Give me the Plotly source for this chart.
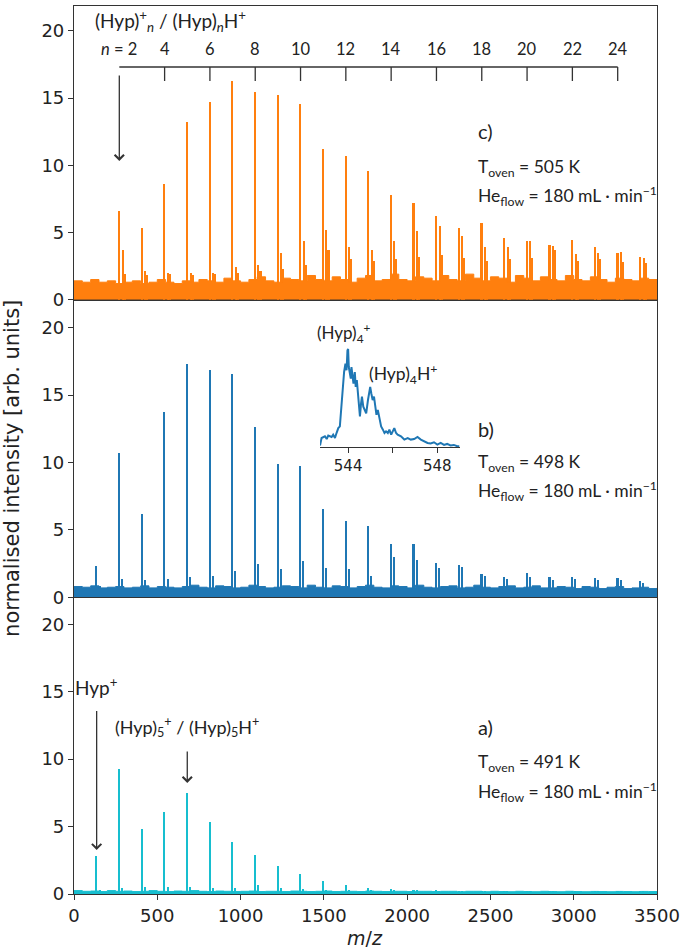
import plotly.graph_objects as go

# ---------------- data ----------------
HYP_MASS = 136  # m/z of one Hyp unit

# panel c (orange, T=505 K): clusters n = 2..25
c_n = list(range(2, 26))
c_main = [6.57, 5.3, 8.6, 13.2, 14.75, 16.3, 15.45, 15.26, 14.55, 11.2, 10.68, 9.6,
          7.8, 7.2, 6.25, 5.33, 5.7, 4.6, 4.4, 4.1, 4.46, 3.9, 3.5, 3.2]
c_sat1 = [3.7, 2.1, 2.0, 2.0, 2.0, 2.45, 2.6, 3.5, 4.4, 5.2, 3.9, 3.7,
          4.4, 5.1, 5.5, 4.75, 3.9, 3.9, 4.4, 4.0, 3.4, 3.5, 3.55, 3.1]
c_sat2 = [1.9, 1.8, 1.9, 1.8, 1.9, 2.0, 2.1, 2.3, 2.6, 3.7, 3.0, 2.9,
          3.0, 3.2, 3.3, 3.1, 2.9, 3.0, 3.1, 3.7, 2.9, 3.0, 2.8, 2.7]
c_base = [1.4, 1.3, 1.5, 1.3, 1.4, 1.2, 1.3, 1.4, 1.2, 1.3, 1.5, 1.3, 1.2, 1.4, 1.3, 1.5,
          1.4, 1.3, 1.6, 1.4, 1.3, 1.5, 1.7, 1.4, 1.3, 1.6, 1.5, 1.4, 1.8, 1.5, 1.4, 1.7,
          1.5, 1.3, 1.6, 1.8, 1.4, 1.5, 1.9, 1.5, 1.4, 1.7, 1.6, 1.4, 1.8, 1.5, 1.4, 1.9,
          1.6, 1.4, 1.7, 1.6, 1.3, 1.8, 1.6, 1.4, 1.7, 1.5, 1.4, 1.8, 1.5, 1.4, 1.7, 1.5,
          1.3, 1.6, 1.5, 1.4, 1.6, 1.5, 1.4]

# panel b (blue, T=498 K): n = 1..25
b_n = list(range(1, 26))
b_main = [2.37, 10.76, 6.17, 13.78, 17.3, 16.87, 16.6, 12.64, 9.9, 9.78, 6.57, 5.68, 5.31,
          3.98, 3.98, 2.57, 2.42, 1.75, 1.5, 1.83, 1.5, 1.55, 1.45, 1.45, 1.2]
b_sat1 = [0.9, 1.4, 1.3, 1.4, 1.5, 1.6, 2.0, 2.5, 2.1, 2.7, 2.2, 2.1, 1.6,
          3.0, 2.8, 2.2, 2.3, 1.6, 1.4, 1.5, 1.3, 1.4, 1.3, 1.3, 1.1]
b_base = [0.8, 0.75, 0.85, 0.7, 0.75, 0.8, 0.7, 0.75, 0.85, 0.7, 0.8, 0.75, 0.7, 0.8, 0.9,
          0.75, 0.7, 0.85, 0.8, 0.7, 0.75, 0.9, 0.8, 0.7, 0.75, 0.85, 0.8, 0.7, 0.9, 0.75,
          0.7, 0.85, 0.8, 0.7, 0.8, 0.9, 0.75, 0.7, 0.85, 0.8, 0.7, 0.9, 0.75, 0.7, 0.8,
          0.85, 0.7, 0.75, 0.9, 0.75, 0.7, 0.8, 0.85, 0.7, 0.75, 0.85, 0.7, 0.7, 0.8, 0.75,
          0.65, 0.8, 0.75, 0.65, 0.75, 0.8, 0.65, 0.7, 0.75, 0.65, 0.7]

# panel a (cyan, T=491 K): n = 1..25
a_n = list(range(1, 26))
a_main = [2.77, 9.24, 4.79, 6.02, 7.46, 5.28, 3.83, 2.84, 2.02, 1.48, 0.91, 0.62, 0.45,
          0.32, 0.28, 0.24, 0.22, 0.21, 0.2, 0.2, 0.2, 0.2, 0.2, 0.2, 0.2]
a_sat1 = [0.3, 0.4, 0.5, 0.5, 0.5, 0.4, 0.4, 0.67, 0.4, 0.35, 0.3, 0.3, 0.3,
          0.25, 0.25, 0.22, 0.2, 0.2, 0.2, 0.2, 0.2, 0.2, 0.2, 0.2, 0.2]
a_base = [0.25, 0.2, 0.22, 0.18, 0.25, 0.2, 0.22, 0.18, 0.2, 0.25, 0.2, 0.18, 0.22, 0.2,
          0.25, 0.2, 0.18, 0.22, 0.2, 0.18, 0.2, 0.22, 0.18, 0.2, 0.2, 0.18, 0.22, 0.2, 0.18,
          0.2, 0.22, 0.18, 0.2, 0.2, 0.18, 0.22, 0.2, 0.18, 0.2, 0.2, 0.18, 0.2, 0.2, 0.18,
          0.2, 0.2, 0.17, 0.2, 0.2, 0.17, 0.2, 0.18, 0.17, 0.2, 0.18, 0.17, 0.2, 0.18, 0.17,
          0.2, 0.18, 0.17, 0.19, 0.18, 0.17, 0.19, 0.18, 0.17, 0.19, 0.18, 0.17]
BASE_STEP = 50  # m/z spacing of the baseline samples

# inset: zoom on (Hyp)4+ / (Hyp)4H+
inset_mz = [542.74, 542.81, 542.96, 543.04, 543.11, 543.26, 543.33, 543.41, 543.48, 543.56,
            543.63, 543.67, 543.73, 543.78, 543.82, 543.88, 543.93, 543.97, 544.00, 544.03,
            544.07, 544.12, 544.15, 544.19, 544.24, 544.30, 544.34, 544.39, 544.44, 544.49,
            544.53, 544.58, 544.62, 544.68, 544.74, 544.81, 544.89, 544.95, 544.99, 545.04,
            545.10, 545.16, 545.21, 545.27, 545.33, 545.41, 545.48, 545.56, 545.63, 545.70,
            545.78, 545.85, 545.93, 546.00, 546.07, 546.15, 546.22, 546.37, 546.52, 546.67,
            546.81, 546.96, 547.11, 547.26, 547.41, 547.56, 547.70, 547.85, 548.00, 548.15,
            548.30, 548.44, 548.59, 548.74, 548.89, 548.99]
inset_int = [0.7, 8.3, 10, 7.3, 10.7, 9.3, 11.7, 8.3, 13.3, 18.3,
             20, 33.3, 46.7, 60, 75, 83.3, 76.7, 96.7, 98.3, 80,
             75, 68.3, 80, 70, 63.3, 75, 60, 66.7, 50, 36.7,
             30, 43.3, 50, 40, 36.7, 33.3, 46.7, 55, 60, 53.3,
             46.7, 50, 40, 31.7, 36.7, 26.7, 20, 16.7, 13.3, 15,
             13.3, 16.7, 11.7, 15, 18.3, 13.3, 11.7, 10, 6.7, 8.3,
             6.7, 7.3, 9.3, 6.7, 5, 3.3, 2.7, 4, 1.7, 3.3,
             1.3, 2.3, 0.7, 1.3, 0, 0]

x_ticks = [0, 500, 1000, 1500, 2000, 2500, 3000, 3500]
y_ticks = [0, 5, 10, 15, 20]
n_scale = list(range(2, 25, 2))

ORANGE, BLUE, CYAN = "#ff7f0e", "#1f77b4", "#17becf"
AX = "#333333"
TICKFONT = dict(family="DejaVu Sans", size=18, color="#222")
TXT = "Lato"

fig = go.Figure()


def add_panel(xa, ya, color, n_list, main, sats, base):
    bx = [i * BASE_STEP for i in range(len(base))]
    fig.add_trace(go.Scatter(x=bx, y=base, mode="lines", fill="tozeroy", line_shape="hv",
                             fillcolor=color, line=dict(color=color, width=1),
                             xaxis=xa, yaxis=ya, hoverinfo="skip"))
    for off, vals, w in sats:
        fig.add_trace(go.Bar(x=[n * HYP_MASS + off for n in n_list], y=vals, width=w,
                             marker=dict(color=color, line=dict(width=0)),
                             xaxis=xa, yaxis=ya, hoverinfo="skip"))
    fig.add_trace(go.Bar(x=[n * HYP_MASS for n in n_list], y=main, width=10,
                         marker=dict(color=color, line=dict(width=0)),
                         xaxis=xa, yaxis=ya, hoverinfo="skip"))


add_panel("x3", "y3", ORANGE, c_n, c_main, [(30, c_sat2, 16), (20, c_sat1, 7)], c_base)
add_panel("x2", "y2", BLUE, b_n, b_main, [(18, b_sat1, 7)], b_base)
add_panel("x", "y", CYAN, a_n, a_main, [(18, a_sat1, 7)], a_base)

fig.add_trace(go.Scatter(x=inset_mz, y=inset_int, mode="lines",
                         line=dict(color=BLUE, width=2), xaxis="x4", yaxis="y4",
                         hoverinfo="skip"))

# ---------------- layout ----------------
L, R, T, B = 74, 24, 5, 56
W, H = 685, 950
PW, PH = W - L - R, H - T - B


def px(xp):
    return (xp - L) / PW


def py(yp):
    return (H - B - yp) / PH


dA = [0, py(597)]
dB = [py(597), py(299)]
dC = [py(299), 1]

common_x = dict(range=[0, 3500], showline=True, mirror=True, linecolor=AX, linewidth=1.2,
                showgrid=False, zeroline=False)
common_y = dict(showline=True, mirror=True, linecolor=AX, linewidth=1.2, showgrid=False,
                zeroline=False, ticks="outside", ticklen=5, tickcolor=AX,
                tickvals=y_ticks, tickfont=TICKFONT)

fig.update_layout(
    width=W, height=H, margin=dict(l=L, r=R, t=T, b=B),
    paper_bgcolor="white", plot_bgcolor="white", showlegend=False,
    barmode="overlay", bargap=0,
    xaxis=dict(**common_x, anchor="y", domain=[0, 1], ticks="outside", ticklen=5,
               tickcolor=AX, tickvals=x_ticks, tickfont=TICKFONT),
    xaxis2=dict(**common_x, anchor="y2", domain=[0, 1], matches="x",
                showticklabels=False, ticks=""),
    xaxis3=dict(**common_x, anchor="y3", domain=[0, 1], matches="x",
                showticklabels=False, ticks=""),
    yaxis=dict(**common_y, anchor="x", domain=dA, range=[0, 22.0]),
    yaxis2=dict(**common_y, anchor="x2", domain=dB, range=[0, 22.07]),
    yaxis3=dict(**common_y, anchor="x3", domain=dC, range=[0, 21.86]),
    xaxis4=dict(anchor="y4", domain=[px(321.7), px(462.3)], range=[542.74, 549.0],
                showline=True, linecolor=AX, linewidth=1.2, showgrid=False, zeroline=False,
                ticks="outside", ticklen=5, tickcolor=AX, tickvals=[544, 546, 548],
                ticktext=["544", "", "548"],
                tickfont=dict(family="DejaVu Sans", size=15, color="#222")),
    yaxis4=dict(anchor="x4", domain=[py(446.7), py(340)], range=[-1, 106.7], visible=False),
)

ann = []


def text(x, y, s, size=17.5, xanchor="left", xref="paper", yref="paper", family=TXT):
    ann.append(dict(x=x, y=y, xref=xref, yref=yref, text=s, showarrow=False,
                    xanchor=xanchor, yanchor="middle",
                    font=dict(family=family, size=size, color="#222")))


def arrow(x, y0, y1, xref, yref):
    ann.append(dict(x=x, y=y1, ax=x, ay=y0, xref=xref, yref=yref, axref=xref, ayref=yref,
                    text=" ", showarrow=True, arrowhead=4, arrowsize=1.4, arrowwidth=1.3,
                    arrowcolor=AX, standoff=0, startstandoff=0,
                    font=dict(size=10)))


# panel labels and conditions
for lab, temp, ylab, yt, yh in [("c)", 505, 130, 167, 195),
                                 ("b)", 498, 428, 463, 491),
                                 ("a)", 491, 727, 763, 792)]:
    text(px(479), py(ylab), lab, size=20)
    text(px(479), py(yt), f"T<sub>oven</sub> = {temp} K", size=17.5)
    text(px(479), py(yh), "He<sub>flow</sub> = 180 mL · min<sup>−1</sup>", size=17.5)

# top n-scale
YS = 17.32   # bracket line level (panel c units)
for n in n_scale:
    lbl = f"<i>n</i> = {n}" if n == 2 else str(n)
    text(n * HYP_MASS, 18.66, lbl, size=16.5, xanchor="center", xref="x3", yref="y3")
text(113, 20.74, "(Hyp)<sup>+</sup><sub><i>n</i></sub> / (Hyp)<sub><i>n</i></sub>H<sup>+</sup>",
     size=19, xref="x3", yref="y3")
arrow(2 * HYP_MASS, YS, 10.33, "x3", "y3")

shapes = [dict(type="line", xref="x3", yref="y3", x0=n_scale[0] * HYP_MASS,
               x1=n_scale[-1] * HYP_MASS, y0=YS, y1=YS, line=dict(color=AX, width=1.3))]
for n in n_scale[1:]:
    shapes.append(dict(type="line", xref="x3", yref="y3", x0=n * HYP_MASS, x1=n * HYP_MASS,
                       y0=YS, y1=16.28, line=dict(color=AX, width=1.3)))

# inset labels
text(px(346), py(332), "(Hyp)<sub>4</sub><sup>+</sup>", size=17, xanchor="center")
text(px(405), py(373), "(Hyp)<sub>4</sub>H<sup>+</sup>", size=17.5, xanchor="center")

# panel a labels
text(1 * HYP_MASS, 15.4, "Hyp<sup>+</sup>", size=19, xanchor="center", xref="x", yref="y")
arrow(1 * HYP_MASS, 14.2, 3.26, "x", "y")
text(5 * HYP_MASS, 12.37, "(Hyp)<sub>5</sub><sup>+</sup> / (Hyp)<sub>5</sub>H<sup>+</sup>",
     size=18, xanchor="center", xref="x", yref="y")
arrow(5 * HYP_MASS, 11.19, 8.24, "x", "y")

# axis titles
text(px(367), py(938), "<i>m</i>/<i>z</i>", size=19, xanchor="center", family="DejaVu Sans")
ann.append(dict(x=px(12), y=py(468), xref="paper", yref="paper",
                text="normalised intensity [arb. units]", showarrow=False, textangle=-90,
                xanchor="center", yanchor="middle",
                font=dict(family="DejaVu Sans", size=21, color="#222")))

fig.update_layout(annotations=ann, shapes=shapes)
fig.write_html("out.html", config={"displayModeBar": False},
               post_script="document.body.style.margin='0';document.body.style.overflow='hidden';")
